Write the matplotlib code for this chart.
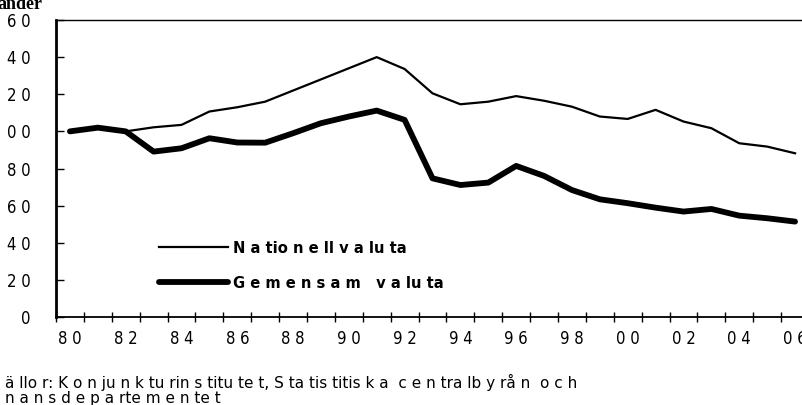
import matplotlib
matplotlib.use("Agg")
import matplotlib.pyplot as plt
from matplotlib.lines import Line2D

plt.rcParams['font.family'] = ['DejaVu Sans']
plt.rcParams['font.stretch'] = 'condensed'

# Index, 1980 = 100
years = list(range(1980, 2007))
nationell = [100, 102, 100, 102.2, 103.5, 110.7, 113, 116, 122, 128, 134, 140, 133.6,
             120.5, 114.6, 116, 119, 116.5, 113.3, 108, 106.7, 111.6, 105.3, 101.7,
             93.6, 91.8, 88.2]
gemensam = [100, 102, 100, 89.1, 90.9, 96.3, 94, 93.9, 99, 104.4, 108, 111.2, 106.2,
            74.7, 71.1, 72.4, 81.4, 76, 68.4, 63.4, 61.3, 58.9, 56.8, 58.2,
            54.6, 53.2, 51.4]

y_ticks = [0, 20, 40, 60, 80, 100, 120, 140, 160]
y_labels = ["0", "2 0", "4 0", "6 0", "8 0", "0 0", "2 0", "4 0", "6 0"]
x_labels = ["8 0", "8 2", "8 4", "8 6", "8 8", "9 0", "9 2", "9 4",
            "9 6", "9 8", "0 0", "0 2", "0 4", "0 6"]
series_names = ["N a tio n e ll v a lu ta", "G e m e n s a m   v a lu ta"]
source_lines = ["ä llo r: K o n ju n k tu rin s titu te t, S ta tis titis k a  c e n tra lb y rå n  o c h",
                "n a n s d e p a rte m e n te t"]

W, H = 802, 405
fig = plt.figure(figsize=(W / 100, H / 100), dpi=100)
ax = fig.add_axes([56 / W, (H - 317) / H, (809 - 56) / W, 297 / H])

x = list(range(len(years)))
ax.plot(x, nationell, color='black', lw=1.6, zorder=3)
ax.plot(x, gemensam, color='black', lw=4.2, solid_capstyle='round',
        solid_joinstyle='round', zorder=4)

ax.set_xlim(-0.5, len(years) - 0.5)
ax.set_ylim(0, 160)

# category boundaries as ticks, labels at every other year centre
ax.set_xticks([i - 0.5 for i in range(len(years) + 1)])
ax.set_xticklabels([])
ax.tick_params(axis='x', which='major', direction='inout', length=7, width=1)
ax.set_xticks(x[::2], x_labels, minor=True)
ax.tick_params(axis='x', which='minor', length=0, pad=9, labelsize=12)

ax.set_yticks(y_ticks, y_labels)
ax.tick_params(axis='y', direction='in', length=6, width=1, pad=18, labelsize=12)

ax.spines['left'].set_linewidth(2)
ax.spines['bottom'].set_linewidth(1.3)
ax.spines['top'].set_linewidth(1)
ax.spines['right'].set_visible(False)

handles = [Line2D([], [], color='black', lw=1.6),
           Line2D([], [], color='black', lw=4.2, solid_capstyle='round')]
ax.legend(handles, series_names, loc='upper left', bbox_to_anchor=(0.137, 0.257),
          frameon=False, handlelength=4.2, handletextpad=0.3, labelspacing=1.25,
          borderpad=0, borderaxespad=0,
          prop={'weight': 'bold', 'size': 11.8, 'stretch': 'condensed'})

fig.text(-3 / W, 1 - 9 / H, "ander", ha='left', va='baseline',
         fontfamily='Liberation Serif', fontweight='bold', fontsize=13)
for i, line in enumerate(source_lines):
    fig.text(5 / W, 1 - (388 + 15 * i) / H, line, ha='left', va='baseline',
             fontsize=11, fontstretch='normal')

fig.savefig('out.png', dpi=100)
